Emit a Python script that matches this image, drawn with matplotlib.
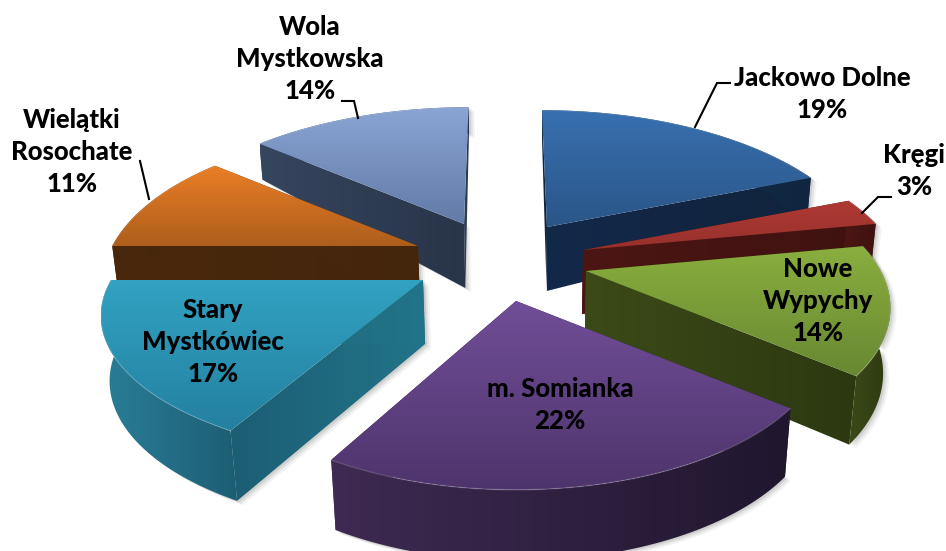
import numpy as np
import matplotlib
matplotlib.use("Agg")
import matplotlib.pyplot as plt
from matplotlib.patches import Polygon
from matplotlib.colors import LinearSegmentedColormap

names = ["Jackowo Dolne", "Kręgi", "Nowe\nWypychy", "m. Somianka",
         "Stary\nMystkówiec", "Wielątki\nRosochate", "Wola\nMystkowska"]
values = [19, 3, 14, 22, 17, 11, 14]

# styling / layout
apex = [(547, 227), (583, 250), (586, 271), (516, 301), (423, 280), (418, 246), (464, 224)]
scale_x = [1.0, 1.0, 0.945, 0.96, 1.0, 0.98, 1.0]
scale_y = [1.0, 1.0, 0.95, 0.97, 0.92, 1.0, 1.0]
lean = [5, 0, 0, 0, 0, 0, -4.5]
top_col = [("#3870b0", "#2a5688"), ("#b03a34", "#96302c"), ("#8aae3e", "#688832"),
           ("#714e98", "#4e346c"), ("#32a2c2", "#2480a0"), ("#ea7e26", "#ae5e1c"), ("#8aa4d4", "#627aa6")]
side_col = [("#14304e", "#102640"), ("#4c1614", "#3e1210"), ("#3c4a18", "#2c3810"),
            ("#3e2a52", "#20162e"), ("#2a7e98", "#1c5e74"), ("#4a280c", "#44260c"), ("#36465e", "#283448")]
rad_col = [("#13294a", "#11233c"), ("#4c1614", "#3e1210"), ("#3c4a18", "#2c3810"),
           ("#3e2a52", "#20162e"), ("#1c5e74", "#227488"), ("#4a280c", "#44260c"), ("#36465e", "#283448")]
label_xy = [(822, 94), (914, 171), (818, 301), (560, 405), (213, 342), (72, 152), (310, 59)]
leaders = [[(730, 83), (717, 83), (695, 127)],
           [(891, 197), (878, 197), (862, 213)],
           [(342, 101), (354, 101), (358, 118)],
           [(140, 161), (149, 199)]]
order = [6, 0, 5, 1, 2, 4, 3]

A, B, K = 312, 146, 0.25


def ground(a):
    s = 1 / (1 + K * np.sin(a))
    return np.cos(a) * s, -np.sin(a) * s


def depth(x, y, a_y):
    d = np.interp(a_y, [-1, 0, 0.64, 1], [71, 64, 36, 26])
    return x + (530 - x) * 0.02 * (d / 64), y + d


def grad(ax, verts, c0, c1, vertical=True, z=1):
    verts = np.asarray(verts)
    x0, y0 = verts.min(0)
    x1, y1 = verts.max(0)
    cm = LinearSegmentedColormap.from_list("g", [c0, c1])
    t = np.linspace(0, 1, 128)
    img = t[:, None] if vertical else t[None, :]
    im = ax.imshow(img, cmap=cm, vmin=0, vmax=1, extent=(x0, x1, y1, y0),
                   aspect="auto", zorder=z, interpolation="bilinear", origin="upper")
    clip = Polygon(verts, closed=True, transform=ax.transData, fc="none", ec="none")
    ax.add_patch(clip)
    im.set_clip_path(clip)


fig = plt.figure(figsize=(9.46, 5.51), dpi=100)
ax = fig.add_axes([0, 0, 1, 1])
ax.set_xlim(0, 946)
ax.set_ylim(551, 0)
ax.axis("off")

# wedge angles: clockwise from 12 o'clock
fracs = np.array(values) / sum(values)
ends = np.cumsum(fracs)
starts = ends - fracs

z = 1
for i in order:
    a0 = np.pi / 2 - 2 * np.pi * starts[i]
    a1 = np.pi / 2 - 2 * np.pi * ends[i]
    th = np.linspace(a0, a1, 80)
    gx, gy = ground(th)
    cx, cy = apex[i]
    x = cx + A * scale_x[i] * gx - lean[i] * np.clip(np.sin(th), 0, 1)
    y = cy + B * scale_y[i] * gy
    bx, by = depth(x, y, np.sin(th))
    abx, aby = depth(cx, cy, 0.0)
    top = np.r_[[[cx, cy]], np.c_[x, y]]
    outer = np.r_[np.c_[x, y], np.c_[bx, by][::-1]]
    rad0 = [(cx, cy), (x[0], y[0]), (bx[0], by[0]), (abx, aby)]
    rad1 = [(cx, cy), (x[-1], y[-1]), (bx[-1], by[-1]), (abx, aby)]
    # soft shadow
    sil = np.r_[top, np.c_[bx, by][::-1], [[abx, aby]]]
    for off, al in [(6, .06), (4, .09), (2, .12)]:
        ax.add_patch(Polygon(sil + [off, off * 0.7], closed=True, fc="#404040", ec="none",
                             alpha=al, zorder=z))
    z += 1
    grad(ax, rad0, *rad_col[i], False, z); z += 1
    grad(ax, rad1, *rad_col[i], False, z); z += 1
    grad(ax, outer, *side_col[i], False, z); z += 1
    grad(ax, top, top_col[i][0], top_col[i][1], True, z); z += 1
    ax.plot(x, y, color="white", alpha=0.15, lw=1, zorder=z, solid_capstyle="round")
    z += 1

z += 1
for pts in leaders:
    px, py = zip(*pts)
    ax.plot(px, py, color="black", lw=1.5, zorder=z, solid_joinstyle="miter")

for i, name in enumerate(names):
    ax.text(label_xy[i][0], label_xy[i][1], f"{name}\n{values[i]}%", family=["Lato", "DejaVu Sans"],
            weight=900, fontsize=18.5, ha="center", va="center", linespacing=1.38,
            color="black", zorder=z + 1)

fig.savefig("out.png", dpi=100, facecolor="white")
